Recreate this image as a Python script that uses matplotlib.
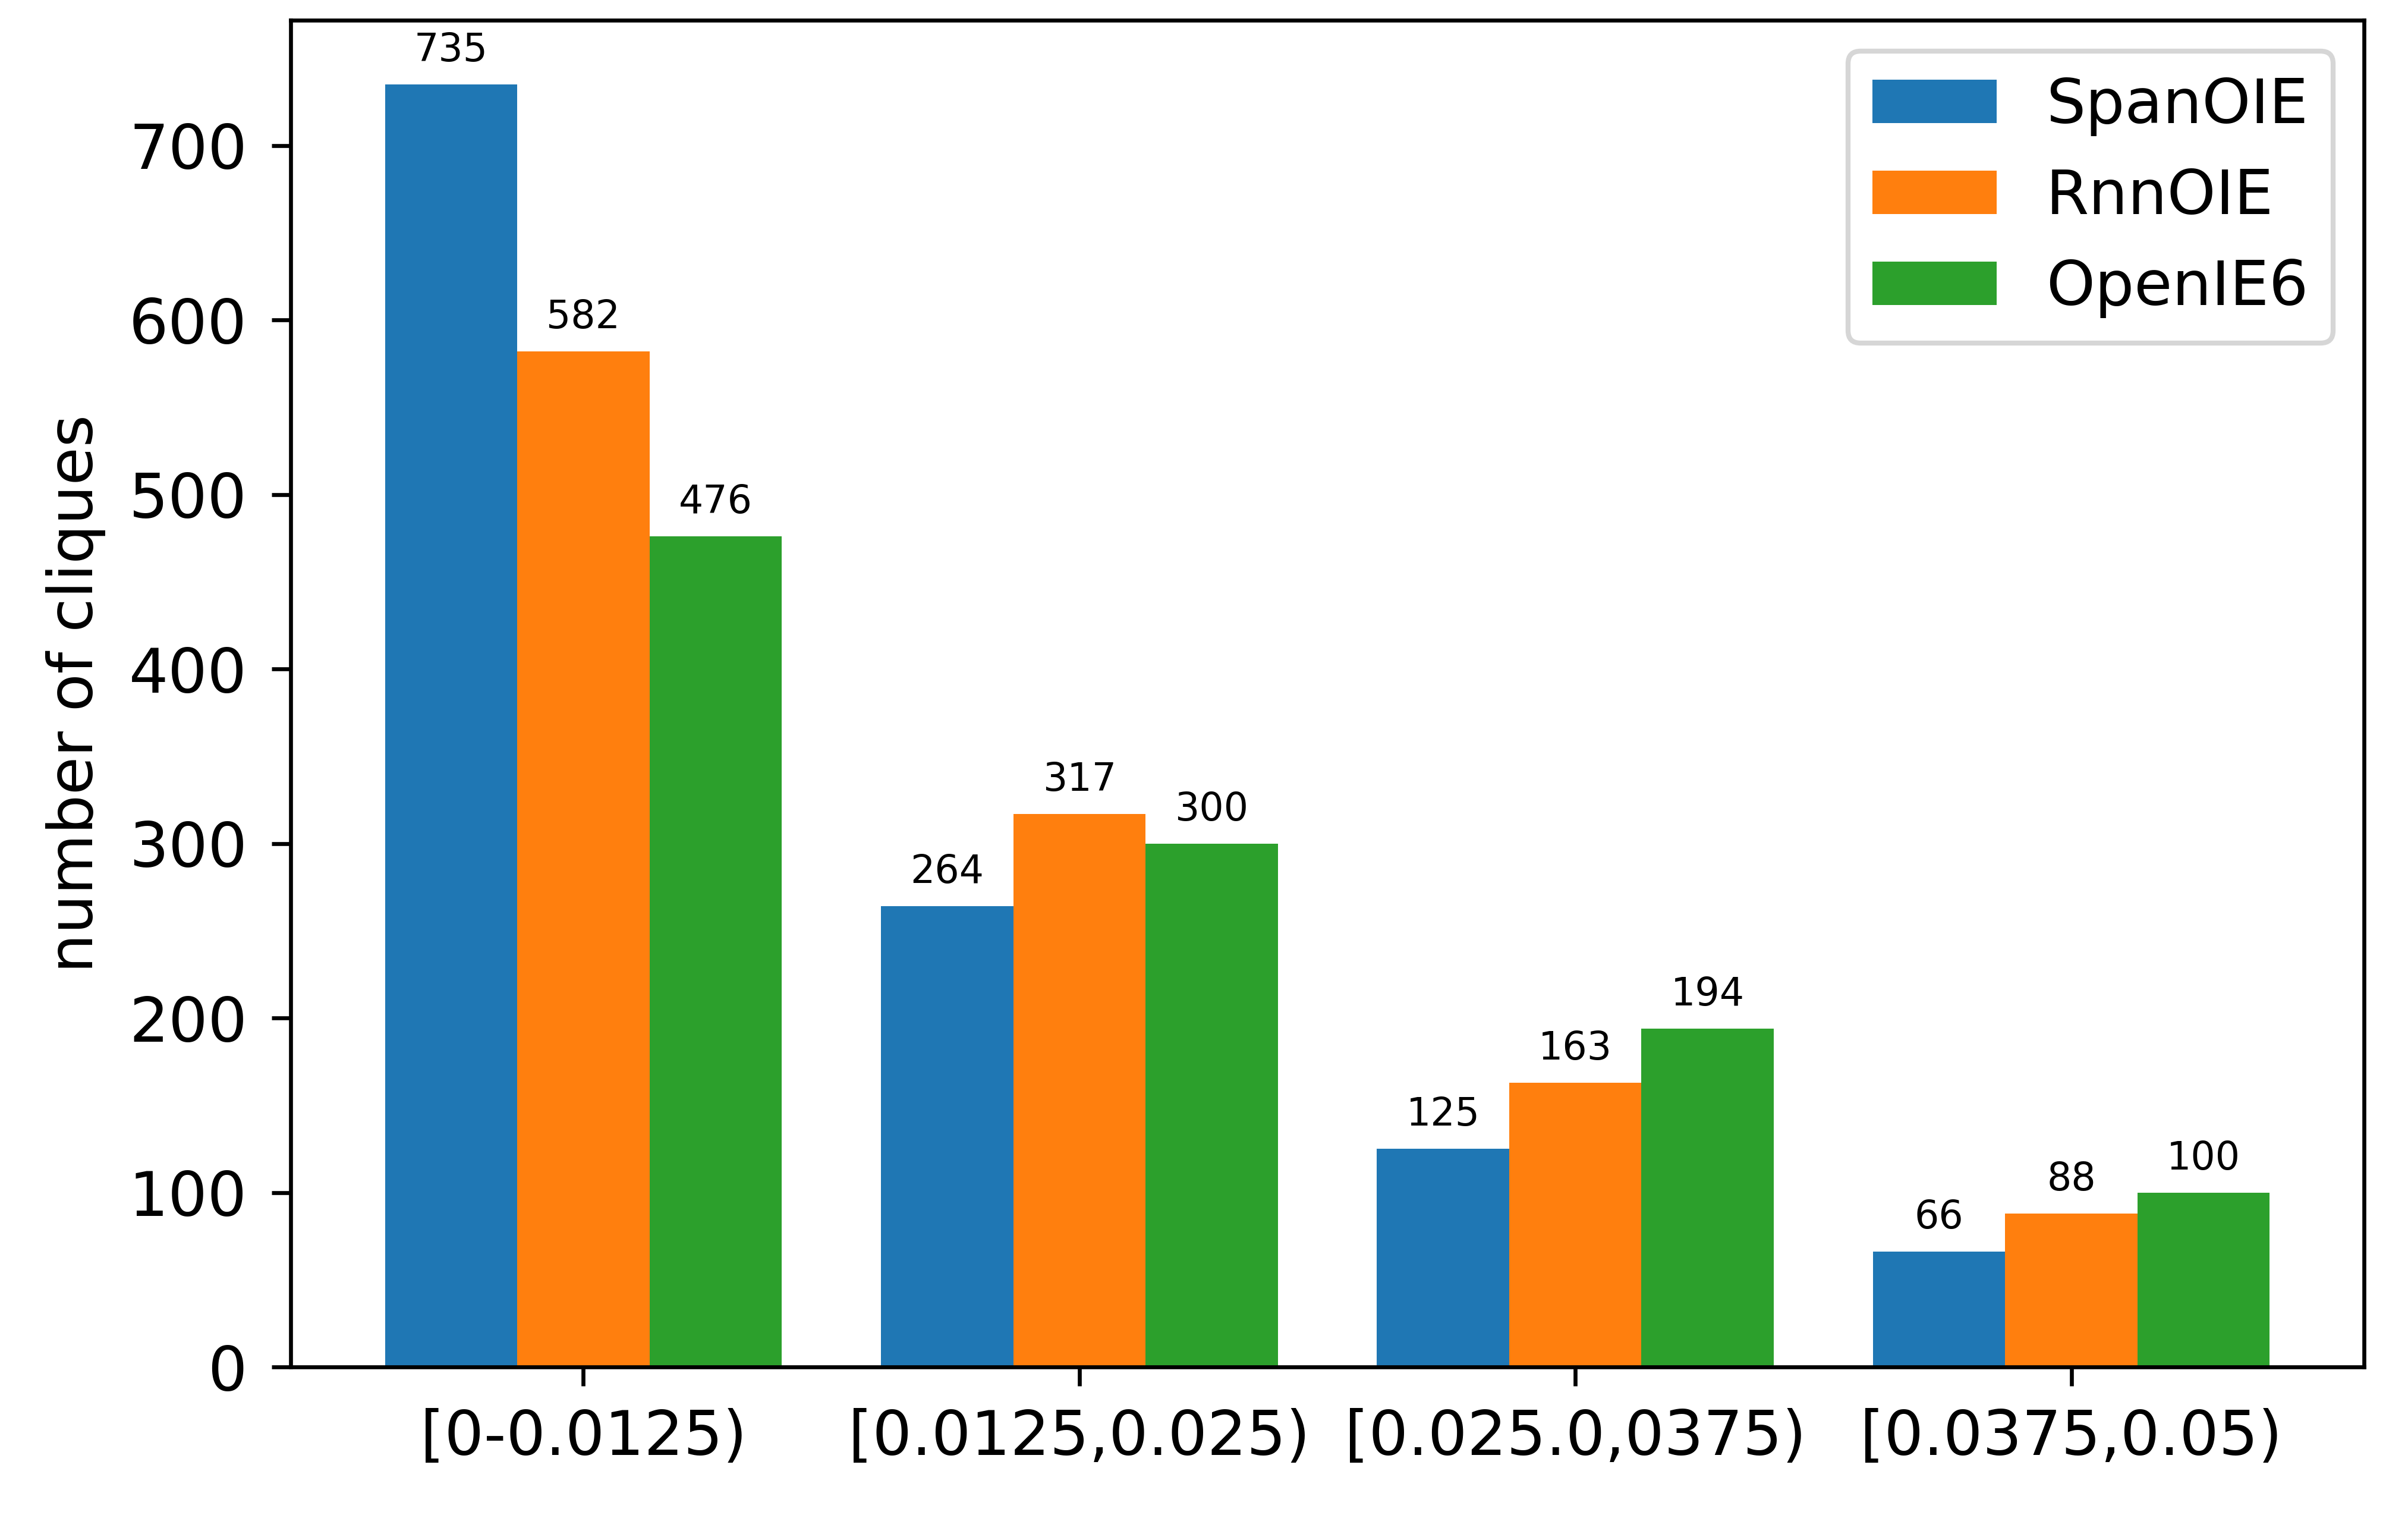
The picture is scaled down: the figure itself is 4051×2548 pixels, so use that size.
import matplotlib
matplotlib.use("Agg")
import matplotlib.pyplot as plt
import numpy as np

categories = ["[0-0.0125)", "[0.0125,0.025)", "[0.025.0,0375)", "[0.0375,0.05)"]
series_names = ["SpanOIE", "RnnOIE", "OpenIE6"]
spanoie = [735, 264, 125, 66]
rnnoie = [582, 317, 163, 88]
openie6 = [476, 300, 194, 100]
colors = ["#1f77b4", "#ff7f0e", "#2ca02c"]

plt.rcParams["font.family"] = "DejaVu Sans"
fig = plt.figure(figsize=(4051 / 600, 2548 / 600), dpi=600)
ax = fig.add_axes([489 / 4051, 1 - 2299 / 2548, (3977 - 489) / 4051, (2299 - 34) / 2548])

x = np.arange(len(categories))
width = 0.8 / 3
for i, (name, vals) in enumerate(zip(series_names, [spanoie, rnnoie, openie6])):
    bars = ax.bar(x + (i - 1) * width, vals, width, label=name, color=colors[i])
    ax.bar_label(bars, padding=3, fontsize=7.8)

ax.set_xticks(x)
ax.set_xticklabels(categories, fontsize=12.5)
ax.tick_params(axis="y", labelsize=12.5, pad=5.0, length=3.8)
ax.tick_params(axis="x", pad=4.5, length=3.8)
ax.set_ylabel("number of cliques", fontsize=12.5, labelpad=4.6)
ax.legend(loc="upper right", fontsize=12.5)

fig.savefig("out.png", dpi=600)
